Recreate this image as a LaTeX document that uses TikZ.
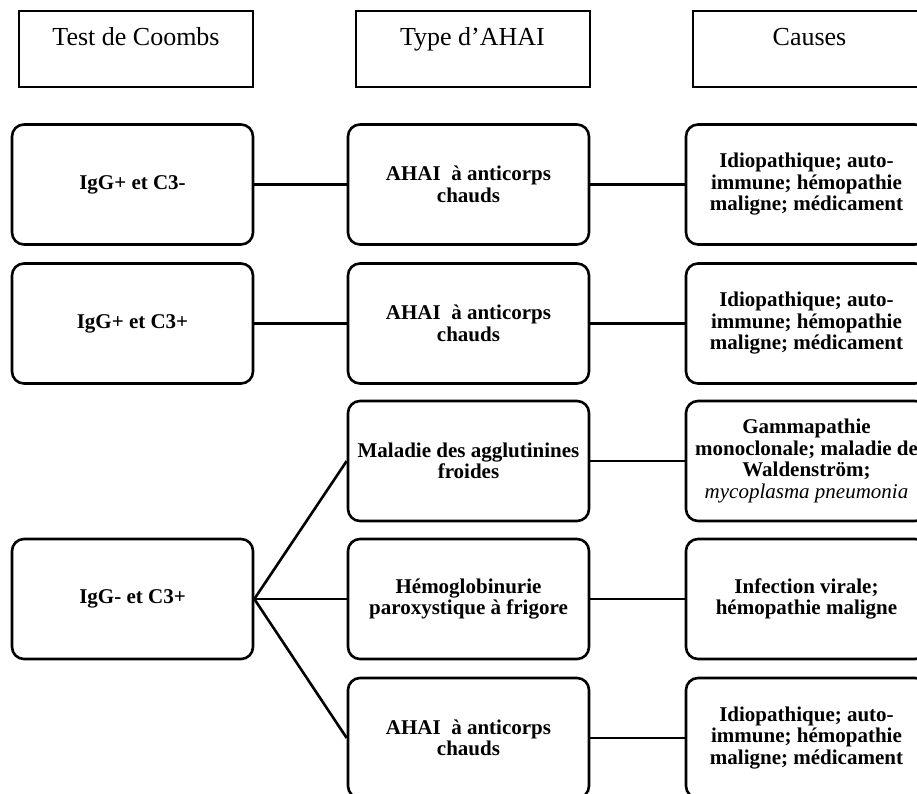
\documentclass[tikz,border=0pt]{standalone}
\usepackage{fontspec}
\setmainfont{Liberation Serif}
\usepackage{tikz}

\begin{document}
\begin{tikzpicture}[x=1pt, y=-1pt,
    hdrbox/.style={draw, line width=2pt, inner sep=0pt, minimum width=234,
        text height=35, text depth=41, font=\fontsize{26}{28}\selectfont},
    cellbox/.style={draw, line width=2.6pt, rounded corners=12, inner sep=2pt,
        minimum width=241, minimum height=120, align=center,
        font=\fontsize{21}{21.5}\selectfont\bfseries},
    link/.style={line width=2.6pt}]
    \useasboundingbox (0,0) rectangle (917,794);
    \clip (0,0) rectangle (917,794);

    % column titles
    \node[hdrbox] (coombs) at (136,49) {Test de Coombs};
    \node[hdrbox] (type) at (472.5,49) {Type d'AHAI};
    \node[hdrbox] (causes) at (809.5,49) {Causes};

    % Coombs test results
    \node[cellbox] (t1) at (132.5,184.5) {IgG+ et C3-};
    \node[cellbox] (t2) at (132.5,323.5) {IgG+ et C3+};
    \node[cellbox] (t3) at (132.5,599) {IgG- et C3+};

    % AHAI types
    \node[cellbox] (a1) at (468.5,184.5) {AHAI\ \ à anticorps\\chauds};
    \node[cellbox] (a2) at (468.5,323.5) {AHAI\ \ à anticorps\\chauds};
    \node[cellbox] (a3) at (468.5,461) {Maladie des agglutinines\\froides};
    \node[cellbox] (a4) at (468.5,599) {Hémoglobinurie\\paroxystique à frigore};
    \node[cellbox] (a5) at (468.5,738) {AHAI\ \ à anticorps\\chauds};

    % causes
    \node[cellbox] (c1) at (806.5,184.5) {Idiopathique; auto-\\immune; hémopathie\\maligne; médicament};
    \node[cellbox] (c2) at (806.5,323.5) {Idiopathique; auto-\\immune; hémopathie\\maligne; médicament};
    \node[cellbox] (c3) at (806.5,461) {Gammapathie\\monoclonale; maladie de\\Waldenström;\\{\mdseries\itshape mycoplasma pneumonia}};
    \node[cellbox] (c4) at (806.5,599) {Infection virale;\\hémopathie maligne};
    \node[cellbox] (c5) at (806.5,738) {Idiopathique; auto-\\immune; hémopathie\\maligne; médicament};

    % links
    \draw[link] (t1.east) -- (a1.west);
    \draw[link] (t2.east) -- (a2.west);
    \draw[link] (t3.east) -- (a3.west);
    \draw[link] (t3.east) -- (a4.west);
    \draw[link] (t3.east) -- (a5.west);
    \draw[link] (a1.east) -- (c1.west);
    \draw[link] (a2.east) -- (c2.west);
    \draw[link] (a3.east) -- (c3.west);
    \draw[link] (a4.east) -- (c4.west);
    \draw[link] (a5.east) -- (c5.west);
\end{tikzpicture}
\end{document}
